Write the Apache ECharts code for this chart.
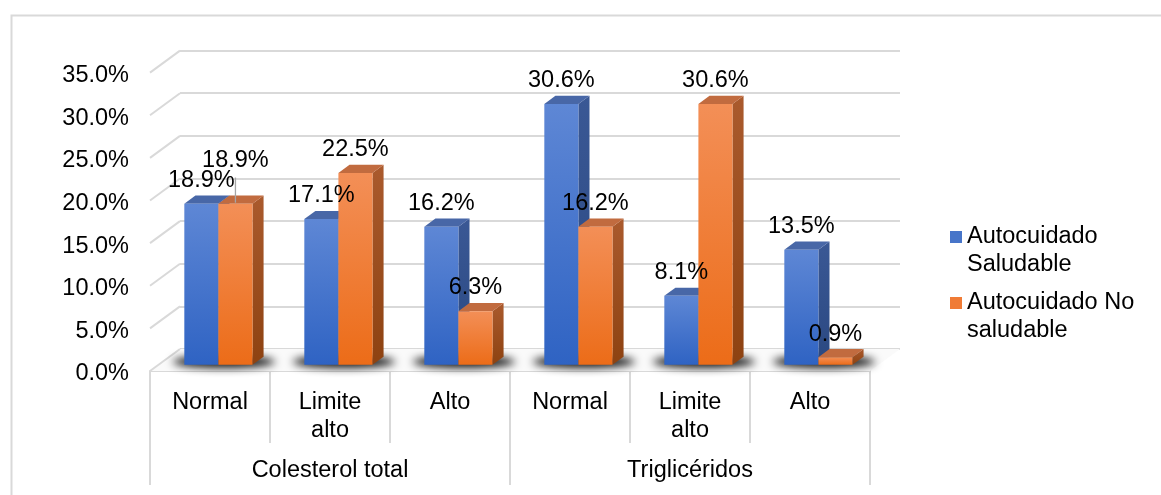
<!DOCTYPE html>
<html>
<head>
<meta charset="utf-8">
<script src="https://cdn.jsdelivr.net/npm/echarts@6/dist/echarts.min.js"></script>
<style>
  html, body { margin: 0; padding: 0; background: #fff; }
  #chart { width: 1161px; height: 495px; }
</style>
</head>
<body>
<div id="chart"></div>
<script>
// ---- data ----
const categories = ['Normal', 'Limite\nalto', 'Alto', 'Normal', 'Limite\nalto', 'Alto'];
const groups = ['Colesterol total', 'Triglicéridos'];
const seriesNames = ['Autocuidado Saludable', 'Autocuidado No saludable'];
const legendLines = { 'Autocuidado Saludable': 'Autocuidado\nSaludable', 'Autocuidado No saludable': 'Autocuidado No\nsaludable' };
const saludable = [18.9, 17.1, 16.2, 30.6, 8.1, 13.5];
const noSaludable = [18.9, 22.5, 6.3, 16.2, 30.6, 0.9];
const yTicks = [0, 5, 10, 15, 20, 25, 30, 35];

// ---- layout & style ----
const FONT = '"Liberation Sans", Arial, sans-serif';
const FS = 23.5;
const FRONT = { left: 150, right: 291, top: 72.6, bottom: 124 };   // front plane of the 3D box
const DEPTH = [30, -22];                                            // front-to-back wall offset
const BAR_FRONT = 0.28, BAR_DEPTH = 0.37, BAR_W = 0.284;
const GRID_COLOR = '#d9d9d9';
const FACES = [
  { front: ['#5e87d5', '#2f63c3'], side: ['#3a5895', '#2a4881'], top: '#4867a7', legend: '#4775c9' },
  { front: ['#f38f57', '#ec6c18'], side: ['#aa5a2d', '#8d4211'], top: '#c16b3f', legend: '#f07b35' }
];

function vgrad(c) {
  return new echarts.graphic.LinearGradient(0, 0, 0, 1, [{ offset: 0, color: c[0] }, { offset: 1, color: c[1] }]);
}

// geometry of one bar (front-face rect + depth offset) from the axis scale
function barGeom(api, i, v, k) {
  const base = api.coord([i, 0]);
  const top = api.coord([i, v]);
  const cw = api.size([1, 0])[0];
  const w = cw * BAR_W;
  const fx = DEPTH[0] * BAR_FRONT, fy = DEPTH[1] * BAR_FRONT;
  const dx = DEPTH[0] * BAR_DEPTH, dy = DEPTH[1] * BAR_DEPTH;
  const x0 = base[0] + fx + (k === 0 ? -w : 0);
  return { x0: x0, x1: x0 + w, yb: base[1] + fy, yt: top[1] + fy, dx: dx, dy: dy, w: w };
}

function barRenderer(k) {
  return function (params, api) {
    const g = barGeom(api, api.value(0), api.value(1), k);
    const c = FACES[k];
    return {
      type: 'group',
      children: [
        { type: 'polygon', shape: { points: [[g.x1, g.yb], [g.x1 + g.dx, g.yb + g.dy], [g.x1 + g.dx, g.yt + g.dy], [g.x1, g.yt]] },
          style: { fill: vgrad(c.side) } },
        { type: 'polygon', shape: { points: [[g.x0, g.yt], [g.x1, g.yt], [g.x1 + g.dx, g.yt + g.dy], [g.x0 + g.dx, g.yt + g.dy]] },
          style: { fill: c.top } },
        { type: 'rect', shape: { x: g.x0, y: g.yt, width: g.w, height: g.yb - g.yt },
          style: { fill: vgrad(c.front) } }
      ]
    };
  };
}

// soft floor shadow under each pair of bars
function shadowRenderer(params, api) {
  const i = api.value(0);
  const g = barGeom(api, i, 0, 0);
  const cx = g.x0 + g.w + g.dx / 2;
  const cy = g.yb + g.dy / 2 + 1;
  const far = 4000;
  return {
    type: 'ellipse',
    shape: { cx: cx - far, cy: cy, rx: g.w + 17, ry: 6 },
    style: { fill: '#000', shadowBlur: 9, shadowColor: 'rgba(0,0,0,0.95)', shadowOffsetX: far }
  };
}

// value labels above the bar tops; an overlapping second label is lifted with a leader line
function labelRenderer(params, api) {
  const i = api.value(0);
  const vals = [api.value(1), api.value(2)];
  const children = [];
  const close = Math.abs(vals[0] - vals[1]) < 3;
  vals.forEach(function (v, k) {
    const g = barGeom(api, i, v, k);
    const x = g.x0 + g.w / 2;
    let y = g.yt + g.dy - 15;
    if (k === 1 && close) {
      y -= 20;
      children.push({ type: 'line', shape: { x1: x, y1: y + 17, x2: x, y2: g.yt - 1 },
        style: { stroke: '#a6a6a6', lineWidth: 1.3 } });
    }
    children.push({ type: 'text', style: {
      x: x, y: y, text: v.toFixed(1) + '%', align: 'center', verticalAlign: 'middle',
      font: FS + 'px ' + FONT, fill: '#000' } });
  });
  return { type: 'group', children: children };
}

// left side-wall diagonals joining the front axis to the back-wall gridlines
function wallRenderer(params, api) {
  const p = api.coord([0, api.value(0)]);
  const x = p[0] - api.size([1, 0])[0] / 2;
  return { type: 'line', shape: { x1: x, y1: p[1], x2: x + DEPTH[0], y2: p[1] + DEPTH[1] },
    style: { stroke: GRID_COLOR, lineWidth: 2 } };
}

// floor of the 3D box
function floorRenderer(params, api) {
  const cw = api.size([1, 0])[0];
  const a = api.coord([0, 0]);
  const b = api.coord([categories.length - 1, 0]);
  const xl = a[0] - cw / 2, xr = b[0] + cw / 2, y = a[1];
  return { type: 'polygon',
    shape: { points: [[xl, y], [xr, y], [xr + DEPTH[0], y + DEPTH[1]], [xl + DEPTH[0], y + DEPTH[1]]] },
    style: { fill: '#fafafa' } };
}

const chart = echarts.init(document.getElementById('chart'));
const textBase = { fontFamily: FONT, fontSize: FS, color: '#000' };

chart.setOption({
  backgroundColor: '#fff',
  animation: false,
  graphic: [{
    type: 'rect', left: 9, top: 13, silent: true, z: 0,
    shape: { width: 1400, height: 700 },
    style: { fill: 'none', stroke: GRID_COLOR, lineWidth: 2 }
  }],
  grid: [
    { left: FRONT.left, right: FRONT.right, top: FRONT.top, bottom: FRONT.bottom },
    { left: FRONT.left + DEPTH[0], right: FRONT.right - DEPTH[0], top: FRONT.top + DEPTH[1], bottom: FRONT.bottom - DEPTH[1] }
  ],
  legend: {
    orient: 'vertical', left: 950, top: 195, padding: 0, itemGap: -18,
    itemWidth: 12, itemHeight: 12, icon: 'rect',
    data: seriesNames,
    // a leading blank line keeps the marker level with the first text line
    formatter: function (n) { return '\n' + legendLines[n]; },
    textStyle: Object.assign({}, textBase, { lineHeight: 28 })
  },
  xAxis: [
    { type: 'category', gridIndex: 0, data: categories, position: 'bottom', boundaryGap: true,
      axisLine: { show: true, lineStyle: { color: GRID_COLOR, width: 2 } },
      axisTick: { show: true, interval: 0, length: 72, lineStyle: { color: GRID_COLOR, width: 2 } },
      axisLabel: Object.assign({}, textBase, { interval: 0, margin: 18, lineHeight: 28 }) },
    { type: 'category', gridIndex: 0, data: groups, position: 'bottom', boundaryGap: true,
      axisLine: { show: false },
      axisTick: { show: true, interval: 0, length: 114, lineStyle: { color: GRID_COLOR, width: 2 } },
      axisLabel: Object.assign({}, textBase, { interval: 0, margin: 86, lineHeight: 28 }) },
    { type: 'category', gridIndex: 1, data: categories, show: false }
  ],
  yAxis: [
    { type: 'value', gridIndex: 0, min: 0, max: 35, interval: 5,
      axisLine: { show: false }, axisTick: { show: false }, splitLine: { show: false },
      // a short top-aligned line box centres the digits on the tick
      axisLabel: Object.assign({}, textBase, { margin: 21, verticalAlign: 'top', lineHeight: 6,
        formatter: function (v) { return v.toFixed(1) + '%'; } }) },
    { type: 'value', gridIndex: 1, min: 0, max: 35, interval: 5,
      axisLine: { show: false }, axisTick: { show: false }, axisLabel: { show: false },
      splitLine: { show: true, lineStyle: { color: GRID_COLOR, width: 2 } } }
  ],
  series: [
    { type: 'custom', name: 'floor', xAxisIndex: 0, yAxisIndex: 0, z: 1, silent: true,
      data: [[0, 0]], renderItem: floorRenderer },
    { type: 'custom', name: 'wall', xAxisIndex: 0, yAxisIndex: 0, z: 1, silent: true,
      data: yTicks.map(function (t) { return [t]; }), encode: { y: 0 }, renderItem: wallRenderer },
    { type: 'custom', name: 'shadow', xAxisIndex: 0, yAxisIndex: 0, z: 2, silent: true,
      data: categories.map(function (c, i) { return [i, 0]; }), renderItem: shadowRenderer },
    { type: 'custom', name: seriesNames[0], xAxisIndex: 0, yAxisIndex: 0, z: 3,
      itemStyle: { color: FACES[0].legend },
      data: saludable.map(function (v, i) { return [i, v]; }), encode: { x: 0, y: 1 },
      renderItem: barRenderer(0) },
    { type: 'custom', name: seriesNames[1], xAxisIndex: 0, yAxisIndex: 0, z: 4,
      itemStyle: { color: FACES[1].legend },
      data: noSaludable.map(function (v, i) { return [i, v]; }), encode: { x: 0, y: 1 },
      renderItem: barRenderer(1) },
    { type: 'custom', name: 'labels', xAxisIndex: 0, yAxisIndex: 0, z: 5, silent: true,
      data: saludable.map(function (v, i) { return [i, v, noSaludable[i]]; }),
      renderItem: labelRenderer }
  ]
});
</script>
</body>
</html>
